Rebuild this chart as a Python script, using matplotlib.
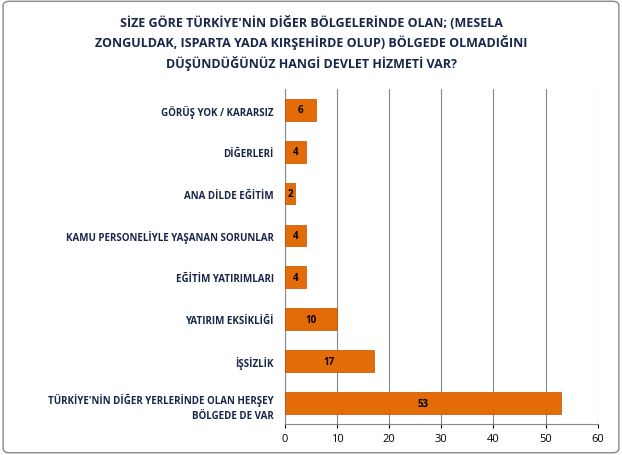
import matplotlib
matplotlib.use("Agg")
import matplotlib.pyplot as plt
from matplotlib.patches import FancyBboxPatch

categories = ["GÖRÜŞ YOK / KARARSIZ", "DİĞERLERİ", "ANA DİLDE EĞİTİM",
              "KAMU PERSONELİYLE YAŞANAN SORUNLAR", "EĞİTİM YATIRIMLARI",
              "YATIRIM EKSİKLİĞİ", "İŞSİZLİK",
              "TÜRKİYE'NİN DİĞER YERLERİNDE OLAN HERŞEY\nBÖLGEDE DE VAR"]
values = [6, 4, 2, 4, 4, 10, 17, 53]
xticks = [0, 10, 20, 30, 40, 50, 60]
title = ("SİZE GÖRE TÜRKİYE'NİN DİĞER BÖLGELERİNDE OLAN; (MESELA\n"
         "ZONGULDAK, ISPARTA YADA KIRŞEHİRDE OLUP) BÖLGEDE OLMADIĞINI\n"
         "DÜŞÜNDÜĞÜNÜZ HANGİ DEVLET HİZMETİ VAR?")

plt.rcParams["font.family"] = "Open Sans"
fig = plt.figure(figsize=(6.22, 4.56), dpi=100)
fig.patches.append(FancyBboxPatch((0.005, 0.005), 0.99, 0.99, boxstyle="round,pad=0,rounding_size=0.01",
                                  transform=fig.transFigure, fill=False, edgecolor="#888888", lw=1))
ax = fig.add_axes([0.458, 0.068, 0.503, 0.735])
y = list(range(len(categories)))[::-1]
ax.barh(y, values, height=0.52, color="#E36C09", edgecolor="#C05000", lw=0.5, zorder=3)
for yi, v in zip(y, values):
    ax.text(v / 2, yi, str(v), ha="center", va="center", fontsize=7, fontweight="bold", zorder=4)
ax.set_yticks(y)
ax.set_yticklabels(categories, fontsize=7, fontweight="bold", color="#17264A", linespacing=1.6)
ax.set_xlim(0, 60)
ax.set_ylim(-0.5, len(categories) - 0.5)
ax.set_xticks(xticks)
ax.tick_params(axis="x", labelsize=8, length=3)
ax.tick_params(axis="y", length=0, pad=8)
ax.xaxis.grid(True, color="#888888", lw=0.8, zorder=0)
for s in ["top", "right"]:
    ax.spines[s].set_visible(False)
ax.spines["left"].set_color("#888888")
ax.spines["bottom"].set_color("#888888")
fig.text(0.5, 0.905, title, ha="center", va="center", fontsize=9, fontweight="bold",
         color="#17264A", linespacing=1.45)
fig.savefig("out.png", dpi=100)
